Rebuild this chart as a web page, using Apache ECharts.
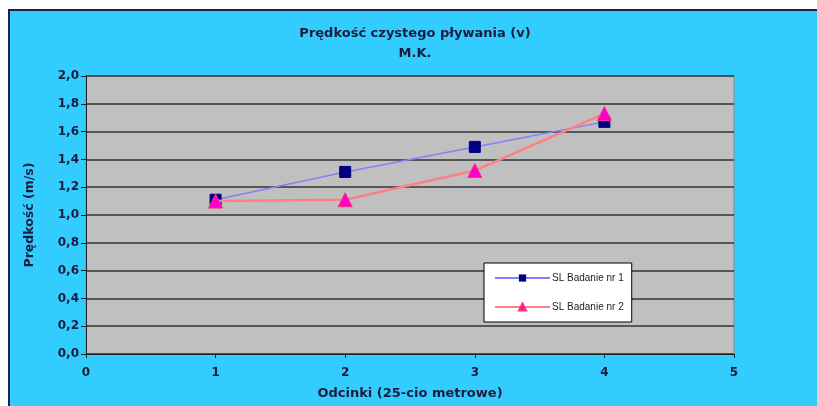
<!DOCTYPE html>
<html><head><meta charset="utf-8">
<script src="https://cdn.jsdelivr.net/npm/echarts@6/dist/echarts.min.js"></script>
<style>html,body{margin:0;padding:0;background:#fff}#c{width:817px;height:406px}</style>
</head><body><div id="c"></div>
<script>
const segments = [1, 2, 3, 4];
const badanie1 = [1.11, 1.31, 1.49, 1.67];
const badanie2 = [1.10, 1.11, 1.32, 1.73];
const seriesNames = ['SL Badanie nr 1', 'SL Badanie nr 2'];
const yTicks = ['0,0','0,2','0,4','0,6','0,8','1,0','1,2','1,4','1,6','1,8','2,0'];

const chart = echarts.init(document.getElementById('c'));
const font = '"DejaVu Sans", Verdana, sans-serif';
const font2 = '"Liberation Sans", Arial, sans-serif';
const txt = '#1c1c3a';
chart.setOption({
  backgroundColor: '#ffffff',
  animation: false,
  graphic: [{
    type: 'rect', left: 8, top: 9, z: -10,
    shape: { width: 820, height: 410 },
    style: { fill: '#33CCFF', stroke: '#20204a', lineWidth: 2 }
  }],
  title: {
    text: 'Prędkość czystego pływania (v)\nM.K.',
    left: 410, top: 19, textAlign: 'center',
    textStyle: { fontFamily: font, fontWeight: 'bold', fontSize: 13, color: txt, lineHeight: 20 }
  },
  grid: {
    left: 86, right: 83, top: 76, bottom: 52, show: true,
    backgroundColor: '#C0C0C0', borderColor: '#8a8a8a', borderWidth: 1
  },
  legend: {
    left: 484, top: 263, width: 150, orient: 'vertical',
    backgroundColor: '#ffffff', borderColor: '#000000', borderWidth: 1,
    padding: [10, 8, 10, 10], itemGap: 19, itemWidth: 55, itemHeight: 9,
    textStyle: { fontFamily: font2, fontSize: 10, color: '#222', padding: [0, 0, 0, -3] },
    data: seriesNames
  },
  xAxis: {
    type: 'value', min: 0, max: 5, interval: 1,
    name: 'Odcinki (25-cio metrowe)', nameLocation: 'middle', nameGap: 33,
    nameTextStyle: { fontFamily: font, fontWeight: 'bold', fontSize: 13, color: txt },
    axisLine: { show: true, lineStyle: { color: '#202020', width: 1 } },
    axisTick: { show: true, length: 4, lineStyle: { color: '#202020' } },
    splitLine: { show: false },
    axisLabel: { fontFamily: font, fontWeight: 'bold', fontSize: 12, color: txt, margin: 13 }
  },
  yAxis: {
    type: 'value', min: 0, max: 2, interval: 0.2,
    name: 'Prędkość (m/s)', nameLocation: 'middle', nameGap: 50, nameRotate: 90,
    nameTextStyle: { fontFamily: font, fontWeight: 'bold', fontSize: 12.5, color: txt },
    axisLine: { show: true, lineStyle: { color: '#202020', width: 1 } },
    axisTick: { show: true, length: 5, lineStyle: { color: '#202020' } },
    splitLine: { show: true, lineStyle: { color: '#353535', width: 1.5 } },
    axisLabel: {
      fontFamily: font, fontWeight: 'bold', fontSize: 12, color: txt, margin: 7,
      formatter: (v) => yTicks[Math.round(v / 0.2)]
    }
  },
  series: [
    {
      name: seriesNames[0], type: 'line',
      data: segments.map((x, i) => [x, badanie1[i]]),
      symbol: 'rect', symbolSize: 11,
      lineStyle: { color: '#8080FF', width: 1.5 },
      itemStyle: { color: '#000080', borderColor: '#000080' },
      z: 3
    },
    {
      name: seriesNames[1], type: 'line',
      data: segments.map((x, i) => [x, badanie2[i]]),
      symbol: 'triangle', symbolSize: 14,
      lineStyle: { color: '#FF8080', width: 2.5 },
      itemStyle: { color: '#FF00CC', borderColor: '#FF3080', borderWidth: 1 },
      z: 4
    }
  ]
});
</script></body></html>
